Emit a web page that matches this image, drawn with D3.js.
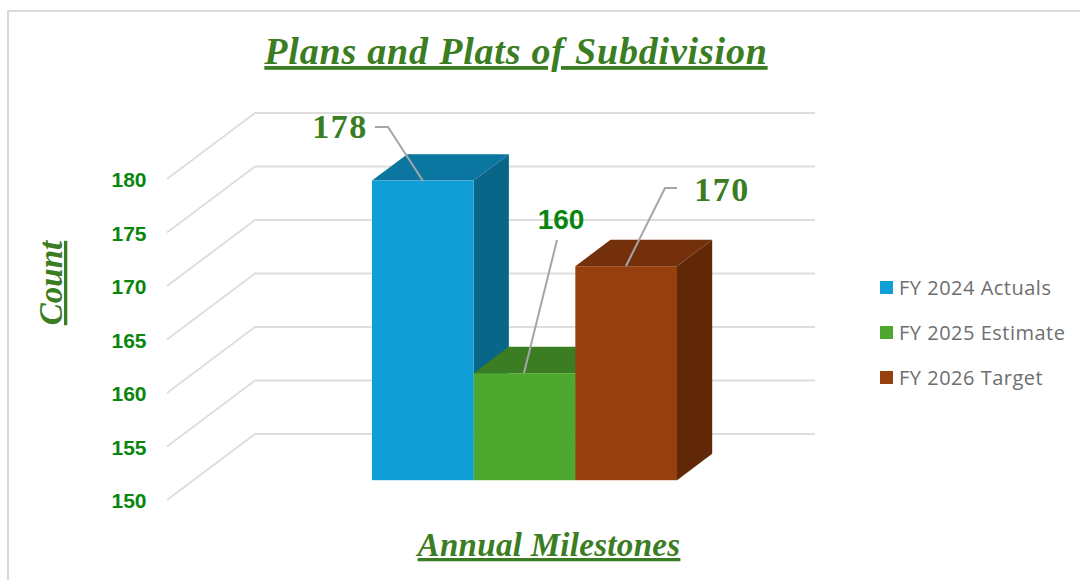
<!DOCTYPE html>
<html>
<head>
<meta charset="utf-8">
<script src="https://d3js.org/d3.v7.min.js"></script>
<style>
  html, body { margin: 0; padding: 0; background: #fff; overflow: hidden; }
</style>
</head>
<body>
<div id="chart"></div>
<script>
var categories = ['FY 2024 Actuals', 'FY 2025 Estimate', 'FY 2026 Target'];
var values = [178, 160, 170];
var tickValues = [150, 155, 160, 165, 170, 175, 180];

var frontColors = ['#0f9ed5', '#4ea72e', '#97400f'];
var topColors = ['#0b76a0', '#3b7d23', '#742f0b'];
var sideColors = ['#0a6689', '#3b7d23', '#612808'];

var width = 1080, height = 580;

var svg = d3.select('#chart').append('svg')
    .attr('width', width)
    .attr('height', height);

// chart frame, right side is cropped off in the original
svg.append('path')
    .attr('d', 'M8,580V11H1080')
    .attr('fill', 'none')
    .attr('stroke', '#d9d9d9')
    .attr('stroke-width', 2);

// scales, y is the front edge of the floor, depth pushes things back and up
var wallX = 167;
var y = d3.scaleLinear().domain([150, 180]).range([500, 179]);
var depthX = d3.scaleLinear().domain([0, 1]).range([0, 88]);
var depthY = d3.scaleLinear().domain([0, 1]).range([0, -66]);
var x = d3.scaleBand().domain(categories).range([345.6, 650.6]).padding(0);

// walls
var grid = svg.append('g').attr('class', 'grid');
grid.selectAll('path')
    .data(tickValues)
    .enter()
    .append('path')
    .attr('d', function (d) {
        return 'M' + wallX + ',' + y(d) + 'L' + (wallX + depthX(1)) + ',' + (y(d) + depthY(1)) + 'H815';
    })
    .attr('fill', 'none')
    .attr('stroke', '#dedede')
    .attr('stroke-width', 2);

// bars, front face sits 0.3 of the way back, rear face at 0.7
var d0 = 0.3, d1 = 0.7;
var bars = svg.append('g').attr('class', 'bars')
    .selectAll('g')
    .data(values)
    .enter()
    .append('g');

bars.each(function (v, i) {
    var g = d3.select(this);
    var left = x(categories[i]) + depthX(d0);
    var right = left + x.bandwidth();
    var top = y(v) + depthY(d0);
    var base = y(150) + depthY(d0);
    var ox = depthX(d1 - d0), oy = depthY(d1 - d0);

    g.append('path')
        .attr('d', 'M' + right + ',' + top + 'L' + (right + ox) + ',' + (top + oy) +
            'V' + (base + oy) + 'L' + right + ',' + base + 'Z')
        .attr('fill', sideColors[i]);
    g.append('path')
        .attr('d', 'M' + left + ',' + top + 'L' + (left + ox) + ',' + (top + oy) +
            'H' + (right + ox) + 'L' + right + ',' + top + 'Z')
        .attr('fill', topColors[i]);
    g.append('rect')
        .attr('x', left)
        .attr('y', top)
        .attr('width', x.bandwidth())
        .attr('height', base - top)
        .attr('fill', frontColors[i]);
});

// value axis
var axis = d3.axisLeft(y).tickValues(tickValues).tickSize(0).tickPadding(0);
var axisG = svg.append('g')
    .attr('transform', 'translate(146.5,1)')
    .call(axis);
axisG.select('.domain').remove();
axisG.selectAll('text')
    .attr('fill', '#0a850f')
    .style('font', 'bold 21px "Liberation Sans"');

// leader lines
var leaders = [
    'M375,127H388L423,181',
    'M557,240L524,373',
    'M677,188H665L626,266'
];
svg.append('g').selectAll('path')
    .data(leaders)
    .enter()
    .append('path')
    .attr('d', function (d) { return d; })
    .attr('fill', 'none')
    .attr('stroke', '#a6a6a6')
    .attr('stroke-width', 2);

// data labels
var labelPos = [[340, 138, '#3b7d23'], [561, 229, '#0a850f'], [722, 201, '#3b7d23']];
svg.append('g').selectAll('text')
    .data(values)
    .enter()
    .append('text')
    .attr('x', function (d, i) { return labelPos[i][0]; })
    .attr('y', function (d, i) { return labelPos[i][1]; })
    .attr('text-anchor', 'middle')
    .attr('fill', function (d, i) { return labelPos[i][2]; })
    .attr('letter-spacing', function (d, i) { return i === 1 ? 0 : 1.5; })
    .style('font', function (d, i) {
        return i === 1 ? 'bold 28px "Liberation Sans"' : 'bold 34px "Liberation Serif"';
    })
    .text(function (d) { return d; });

// titles
svg.append('text')
    .attr('x', 516)
    .attr('y', 64)
    .attr('text-anchor', 'middle')
    .attr('fill', '#3b7d23')
    .attr('text-decoration', 'underline')
    .attr('letter-spacing', 0.8)
    .style('font', 'italic bold 38px "Liberation Serif"')
    .text('Plans and Plats of Subdivision');

svg.append('text')
    .attr('x', 549)
    .attr('y', 556)
    .attr('text-anchor', 'middle')
    .attr('fill', '#3b7d23')
    .attr('text-decoration', 'underline')
    .attr('letter-spacing', 0.3)
    .style('font', 'italic bold 33px "Liberation Serif"')
    .text('Annual Milestones');

svg.append('text')
    .attr('transform', 'translate(62,283) rotate(-90)')
    .attr('text-anchor', 'middle')
    .attr('fill', '#3b7d23')
    .attr('text-decoration', 'underline')
    .style('font', 'italic bold 33px "Liberation Serif"')
    .text('Count');

// legend
var legend = svg.append('g').selectAll('g')
    .data(categories)
    .enter()
    .append('g')
    .attr('transform', function (d, i) { return 'translate(880,' + (281 + i * 45) + ')'; });

legend.append('rect')
    .attr('width', 13)
    .attr('height', 13)
    .attr('fill', function (d, i) { return frontColors[i]; });

legend.append('text')
    .attr('x', 19)
    .attr('y', 14)
    .attr('fill', '#6e6e6e')
    .attr('letter-spacing', 0.5)
    .style('font', '20px "Open Sans"')
    .text(function (d) { return d; });
</script>
</body>
</html>
